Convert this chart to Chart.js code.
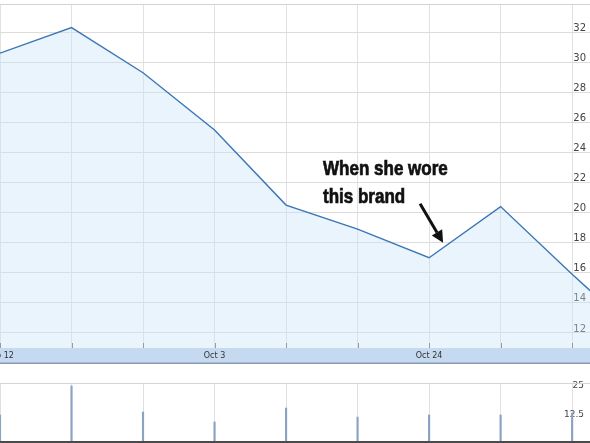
<!DOCTYPE html>
<html><head><meta charset="utf-8">
<script src="https://cdn.jsdelivr.net/npm/chart.js@4"></script>
<style>
html,body{margin:0;padding:0;background:#fff;overflow:hidden;width:590px;height:443px;}
#c1{position:absolute;left:0;top:0;}
#c2{position:absolute;left:0;top:378px;}
#note{position:absolute;left:323px;top:154px;font-family:"Liberation Sans",Arial,sans-serif;font-weight:bold;font-size:20.5px;line-height:28px;color:#111;white-space:nowrap;transform:scaleX(0.83);transform-origin:0 0;-webkit-text-stroke:0.7px #111;}
</style></head><body>
<canvas id="c1" width="590" height="364"></canvas>
<canvas id="c2" width="590" height="65"></canvas>
<div id="note">When she wore<br>this brand</div>
<script>
const categories = ['Sep 12','Sep 19','Sep 26','Oct 3','Oct 10','Oct 17','Oct 24','Oct 31','Nov 7','Nov 14'];
const xTickLabels = ['Sep 12','','','Oct 3','','','Oct 24','','','Nov 14'];
const priceValues = [30.6, 32.3, 29.3, 25.5, 20.5, 18.9, 17.0, 20.4, 15.9, 11.6];
const volumeValues = [11.2, 23.7, 12.5, 8.2, 14.2, 10.3, 11.2, 11.2, 12.1];
const priceTicks = [12, 14, 16, 18, 20, 22, 24, 26, 28, 30, 32];
const volumeTicks = [12.5, 25];
const annotatedIndex = 6;

const X_MIN = 0, X_MAX = 8.25;

function xScaleCommon() {
  return {
    type: 'linear', min: X_MIN, max: X_MAX,
    afterBuildTicks: s => { s.ticks = categories.map((c, i) => ({ value: i })); }
  };
}

const mainFrame = {
  id: 'mainFrame',
  afterDatasetsDraw(chart) {
    const ctx = chart.ctx, a = chart.chartArea, xs = chart.scales.x;
    ctx.save();
    ctx.strokeStyle = '#d2d2d2'; ctx.lineWidth = 1;
    ctx.beginPath(); ctx.moveTo(0, a.top + 0.5); ctx.lineTo(chart.width, a.top + 0.5); ctx.stroke();
    ctx.strokeStyle = '#9a9a9a';
    categories.forEach((c, i) => {
      const px = Math.round(xs.getPixelForValue(i)) + 0.5;
      ctx.beginPath(); ctx.moveTo(px, a.bottom - 5); ctx.lineTo(px, a.bottom); ctx.stroke();
    });
    ctx.strokeStyle = '#8a9bb0'; ctx.lineWidth = 1.5;
    ctx.beginPath(); ctx.moveTo(0, xs.bottom - 0.75); ctx.lineTo(chart.width, xs.bottom - 0.75); ctx.stroke();
    const p = chart.getDatasetMeta(0).data[annotatedIndex];
    const tail = { x: p.x - 9, y: p.y - 54 }, tip = { x: p.x + 14, y: p.y - 15 };
    const dx = tip.x - tail.x, dy = tip.y - tail.y, L = Math.hypot(dx, dy);
    const ux = dx / L, uy = dy / L, hl = 12, hw = 6;
    const bx = tip.x - ux * hl, by = tip.y - uy * hl;
    ctx.strokeStyle = '#111'; ctx.fillStyle = '#111'; ctx.lineWidth = 3;
    ctx.beginPath(); ctx.moveTo(tail.x, tail.y); ctx.lineTo(bx, by); ctx.stroke();
    ctx.beginPath();
    ctx.moveTo(tip.x, tip.y);
    ctx.lineTo(bx - uy * hw, by + ux * hw);
    ctx.lineTo(bx + uy * hw, by - ux * hw);
    ctx.closePath(); ctx.fill();
    ctx.restore();
  }
};

new Chart(document.getElementById('c1'), {
  type: 'line',
  data: {
    datasets: [{
      data: priceValues.map((v, i) => ({ x: i, y: v })),
      borderColor: '#3b76b5', borderWidth: 1.4,
      backgroundColor: 'rgba(200,227,250,0.4)',
      fill: 'start', pointRadius: 0, tension: 0
    }]
  },
  options: {
    responsive: false, animation: false,
    layout: { padding: { top: 4, left: 0, right: 0, bottom: 0 } },
    plugins: { legend: { display: false }, tooltip: { enabled: false } },
    scales: {
      x: Object.assign(xScaleCommon(), {
        backgroundColor: '#c5daf1',
        grid: { color: '#e2e2e2', drawTicks: false },
        border: { display: false },
        ticks: {
          autoSkip: false, maxRotation: 0, minRotation: 0, padding: 3,
          color: '#333', font: { family: 'DejaVu Sans', size: 8 },
          callback: v => xTickLabels[v] || ''
        },
        afterFit: s => { s.paddingLeft = 0; s.paddingRight = 0; s.height = 16; }
      }),
      y: {
        position: 'right', min: 11, max: 33.87,
        afterBuildTicks: s => { s.ticks = priceTicks.map(v => ({ value: v })); },
        afterFit: s => { s.width = 0; s.paddingTop = 0; s.paddingBottom = 0; },
        grid: { color: '#dcdcdc', drawTicks: false },
        border: { display: false },
        ticks: { mirror: true, padding: -4, labelOffset: -4, color: '#444', font: { family: 'DejaVu Sans', size: 10 } }
      }
    }
  },
  plugins: [mainFrame]
});

const volFrame = {
  id: 'volFrame',
  afterDraw(chart) {
    const ctx = chart.ctx, a = chart.chartArea;
    ctx.save();
    ctx.strokeStyle = '#d5d5d5'; ctx.lineWidth = 1;
    ctx.beginPath(); ctx.moveTo(0, a.top + 0.5); ctx.lineTo(chart.width, a.top + 0.5); ctx.stroke();
    ctx.strokeStyle = '#4a4a4a'; ctx.lineWidth = 2;
    ctx.beginPath(); ctx.moveTo(0, chart.height - 1); ctx.lineTo(chart.width, chart.height - 1); ctx.stroke();
    ctx.restore();
  }
};

new Chart(document.getElementById('c2'), {
  type: 'bar',
  data: {
    datasets: [{
      data: volumeValues.map((v, i) => ({ x: i, y: v })),
      backgroundColor: '#8aa3c3', barThickness: 1.5
    }]
  },
  options: {
    responsive: false, animation: false,
    layout: { padding: { top: 5, left: 0, right: 0, bottom: 2 } },
    plugins: { legend: { display: false }, tooltip: { enabled: false } },
    scales: {
      x: Object.assign(xScaleCommon(), {
        grid: { color: '#e0e0e0', drawTicks: false, offset: false },
        border: { display: false },
        offset: false,
        ticks: { display: false },
        afterFit: s => { s.paddingLeft = 0; s.paddingRight = 0; s.height = 0; }
      }),
      y: {
        position: 'right', min: 0, max: 25,
        afterBuildTicks: s => { s.ticks = volumeTicks.map(v => ({ value: v })); },
        afterFit: s => { s.width = 0; s.paddingTop = 0; s.paddingBottom = 0; },
        grid: { display: false, drawTicks: false },
        border: { display: false },
        ticks: { mirror: true, padding: -6, labelOffset: 3, color: '#444', font: { family: 'DejaVu Sans', size: 9 },
          callback: v => String(v) }
      }
    }
  },
  plugins: [volFrame]
});
</script>
</body></html>
